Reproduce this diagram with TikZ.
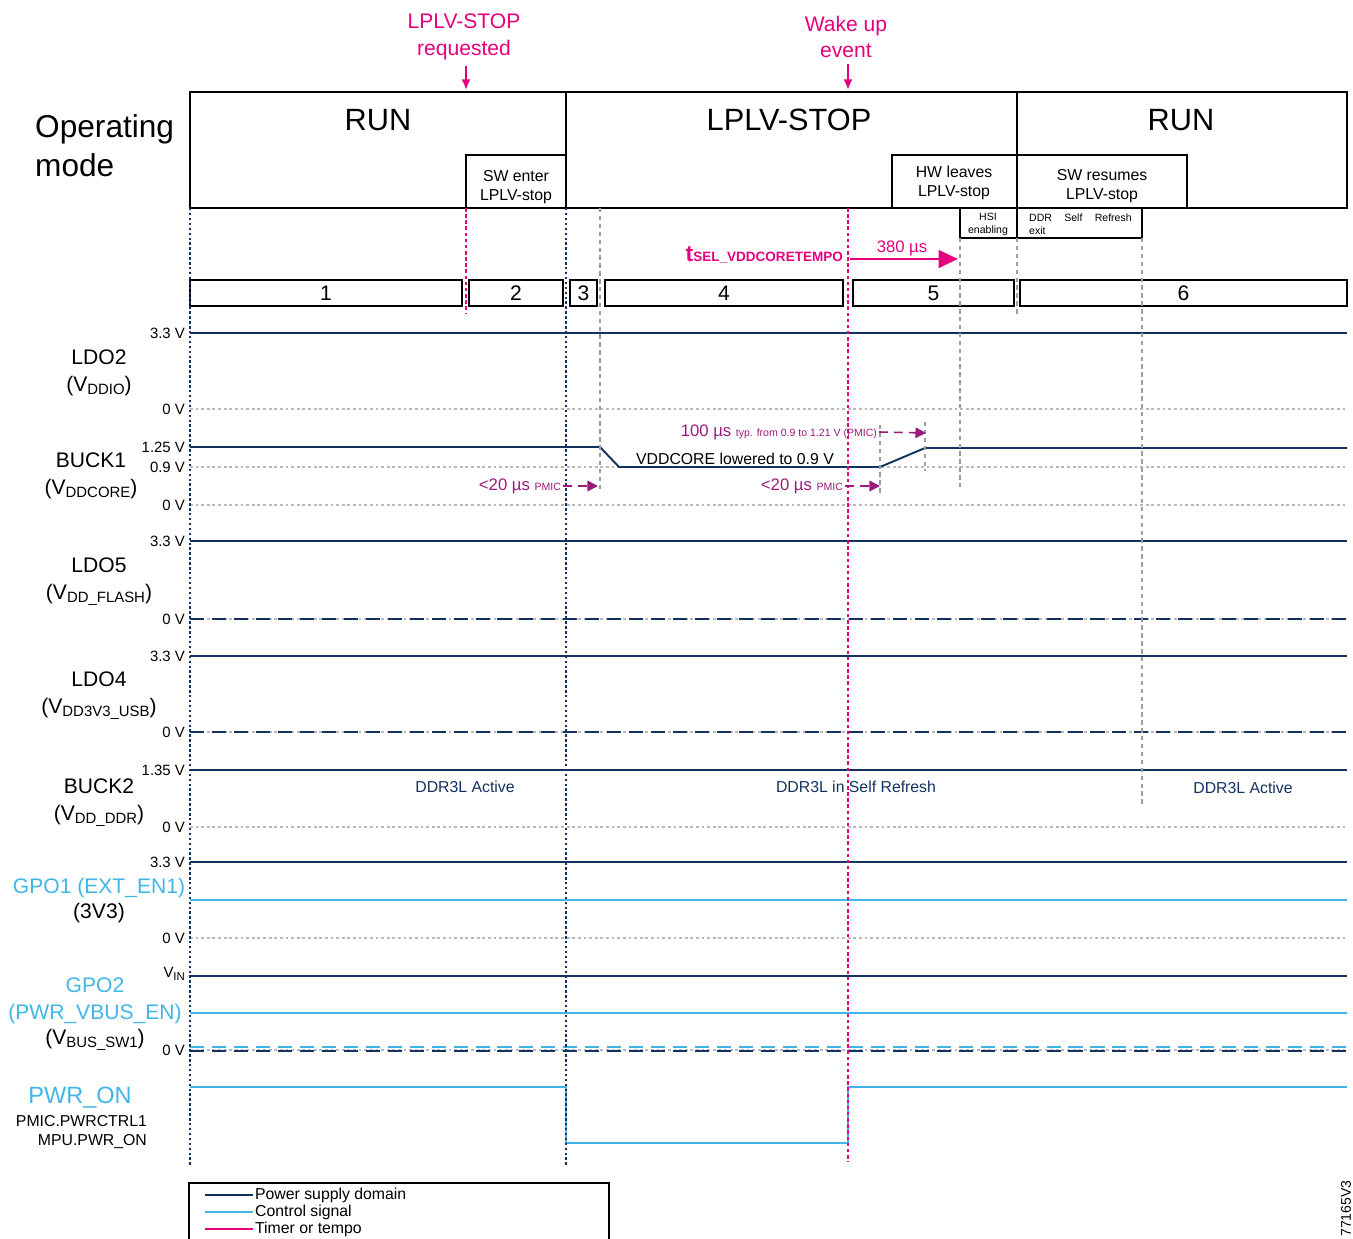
\documentclass[tikz,border=0pt]{standalone}
\usepackage{fontspec}
\setmainfont{Liberation Sans}
\usetikzlibrary{arrows.meta}
\definecolor{navy}{RGB}{20,50,95}
\definecolor{sky}{RGB}{65,182,230}
\definecolor{pink}{RGB}{229,0,126}
\definecolor{plum}{RGB}{155,25,125}
\definecolor{lgray}{RGB}{185,185,185}
\newcommand{\sbs}[1]{\raisebox{-.3ex}{\fontsize{8.5}{9}\selectfont#1}}
\newcommand{\smallpm}[1]{{\fontsize{6}{7}\selectfont#1}}

\tikzset{
  modebox/.style={line width=1.1pt},
  rail/.style={navy,line width=1.1pt},
  ctrl/.style={sky,line width=1.1pt},
  zero/.style={lgray,line width=.8pt,dash pattern=on 1.6pt off 1.6pt},
  zerodash/.style={line width=1.1pt,dash pattern=on 8pt off 4.5pt},
  bound/.style={navy,line width=.9pt,dash pattern=on 1.4pt off 1.4pt},
  evt/.style={pink,line width=1.1pt,dash pattern=on 2pt off 1.5pt},
  guide/.style={lgray!85!black,line width=.8pt,dash pattern=on 2.5pt off 2pt},
  volt/.style={anchor=east,inner sep=1pt,font=\fontsize{8.5}{10}\selectfont},
  railname/.style={align=center,font=\fontsize{12}{15.3}\selectfont},
  sublabel/.style={align=center,font=\fontsize{9}{10.8}\selectfont},
  minitext/.style={align=center,font=\fontsize{6}{7.4}\selectfont},
  evtlabel/.style={pink,align=center,font=\fontsize{12}{15.3}\selectfont},
  title/.style={font=\fontsize{17.5}{20}\selectfont},
  timing/.style={plum,line width=.9pt,dash pattern=on 5pt off 3.5pt,-{Triangle[length=6pt,width=6pt]}},
  lbl/.style={font=\fontsize{9}{11}\selectfont}
}

\begin{document}
\begin{tikzpicture}[x=0.02cm,y=-0.02cm]
\useasboundingbox (0,0) rectangle (1353,1239);
\draw[modebox] (190,92) rectangle (1347,208); \draw[modebox] (566,92) -- (566,208) (1017,92) -- (1017,208);
\draw[modebox] (466,155) rectangle (566,208); \draw[modebox] (892,155) rectangle (1017,208); \draw[modebox] (1017,155) rectangle (1187,208);
\draw[modebox] (960,208) rectangle (1017,238); \draw[modebox] (1017,208) rectangle (1142,238);
\node[title] (run1) at (378,120) {RUN}; \node[title] (stop) at (789,120) {LPLV-STOP}; \node[title] (run2) at (1181,120) {RUN};
\node[anchor=west,align=left,font=\fontsize{18}{22}\selectfont] (opmode) at (29,146) {Operating\\mode};
\node[sublabel] (swenter) at (516,187) {SW enter\\LPLV-stop};
\node[sublabel] (hwleave) at (954,183) {HW leaves\\LPLV-stop};
\node[sublabel] (swres) at (1102,186) {SW resumes\\LPLV-stop};
\node[minitext] (hsi) at (988,224) {HSI\\enabling};
\node[minitext,align=left,anchor=west] (ddr) at (1023,224) {DDR\hspace{7pt}Self\hspace{7pt}Refresh\\exit};

\foreach \n/\a/\b in {1/190/462,2/469/563,3/570/597,4/605/843,5/853/1014,6/1020/1347}{
  \draw[modebox] (\a,280) rectangle (\b,306);
  \node[font=\fontsize{12}{14}\selectfont] (ph\n) at ({(\a+\b)/2},293) {\n};
}

\node[evtlabel] (req) at (464,37) {LPLV-STOP\\requested}; \coordinate (reqtip) at (466,90);
\node[evtlabel] (wake) at (846,37) {Wake up\\event}; \coordinate (waketip) at (848,90);
\draw[pink,line width=1.1pt,-{Latex[length=6pt,width=5pt]}] (req.south -| reqtip) -- (reqtip);
\draw[pink,line width=1.1pt,-{Latex[length=6pt,width=5pt]}] (wake.south -| waketip) -- (waketip);

\foreach \y in {409,467,505,827,938,1050} \draw[zero] (190,\y) -- (1347,\y);
\foreach \y in {619,732} {\draw[zero] (190,\y) -- (1347,\y); \draw[zerodash,navy] (190,\y) -- (1347,\y);}
\foreach \y in {333,541,656,770,862,976} \draw[rail] (190,\y) -- (1347,\y);
\draw[rail] (190,447) -- (600,447) -- (619,467) -- (880,467) -- (925,448) -- (1347,448);
\draw[ctrl] (190,900) -- (1347,900); \draw[ctrl] (190,1013) -- (1347,1013);
\draw[zerodash,sky] (190,1047) -- (1347,1047); \draw[zerodash,navy] (190,1051) -- (1347,1051);
\draw[ctrl] (190,1087) -- (566,1087) -- (566,1143) -- (848,1143) -- (848,1087) -- (1347,1087);

\draw[bound] (190,208) -- (190,1165); \draw[bound] (566,208) -- (566,1165);
\draw[evt] (466,208) -- (466,314); \draw[evt] (848,208) -- (848,1162);
\draw[guide] (600,208) -- (600,492); \draw[guide] (960,238) -- (960,488); \draw[guide] (1017,238) -- (1017,314);
\draw[guide] (1142,238) -- (1142,805); \draw[guide] (880,425) -- (880,493); \draw[guide] (925,422) -- (925,471);

\node[anchor=east,pink,font=\bfseries,inner sep=1pt] (tsel) at (845,255) {{\fontsize{13}{13}\selectfont t}{\fontsize{7.7}{8}\selectfont SEL\_VDDCORETEMPO}};
\coordinate (t0) at (850,259); \coordinate (t1) at (958,259);
\draw[pink,line width=1.5pt,-{Triangle[length=11pt,width=10pt]}] (t0) -- (t1);
\node[pink,font=\fontsize{9.5}{11}\selectfont] (dur) at (902,248) {380 µs};

\node[plum,anchor=east,inner sep=1pt,font=\fontsize{9.5}{11}\selectfont] (rise) at (879,432) {100 µs \smallpm{typ. from 0.9 to 1.21 V (PMIC)}};
\coordinate (riseend) at (926,433); \draw[timing] (rise.east) -- (riseend);
\node[plum,anchor=east,inner sep=1pt,font=\fontsize{9.5}{11}\selectfont] (fall1) at (563,486) {<20 µs \smallpm{PMIC}};
\coordinate (fall1end) at (598,486); \draw[timing] (fall1.east) -- (fall1end);
\node[plum,anchor=east,inner sep=1pt,font=\fontsize{9.5}{11}\selectfont] (fall2) at (845,486) {<20 µs \smallpm{PMIC}};
\coordinate (fall2end) at (880,486); \draw[timing] (fall2.east) -- (fall2end);
\node[lbl] (vcore) at (735,459) {VDDCORE lowered to 0.9 V};
\node[lbl,navy] (ddr1) at (465,787) {DDR3L Active};
\node[lbl,navy] (ddr2) at (856,787) {DDR3L in Self Refresh};
\node[lbl,navy] (ddr3) at (1243,788) {DDR3L Active};

\foreach \y/\v in {333/3.3 V,409/0 V,447/1.25 V,467/0.9 V,505/0 V,541/3.3 V,619/0 V,656/3.3 V,732/0 V,770/1.35 V,827/0 V,862/3.3 V,938/0 V,1050/0 V}
  \node[volt] (v\y) at (187,\y) {\v};
\node[volt] (vin) at (187,974) {V\raisebox{-.3ex}{\fontsize{6.5}{7}\selectfont IN}};

\node[railname] (ldo2) at (99,373) {LDO2\\(V\sbs{DDIO})};
\node[railname] (buck1) at (91,476) {BUCK1\\(V\sbs{DDCORE})};
\node[railname] (ldo5) at (99,582) {LDO5\\(V\sbs{DD\_FLASH})};
\node[railname] (ldo4) at (99,696) {LDO4\\(V\sbs{DD3V3\_USB})};
\node[railname] (buck2) at (99,803) {BUCK2\\(V\sbs{DD\_DDR})};
\node[railname,sky] (gpo1) at (99,888) {GPO1 (EXT\_EN1)};
\node[railname] (gpo1v) at (99,913) {(3V3)};
\node[railname,sky] (gpo2) at (95,1001) {GPO2\\(PWR\_VBUS\_EN)};
\node[railname] (gpo2v) at (95,1040) {(V\sbs{BUS\_SW1})};
\node[sky,font=\fontsize{13.4}{16}\selectfont] (pwron) at (80,1098) {PWR\_ON};
\node[anchor=east,align=right,inner sep=1pt,font=\fontsize{9}{10.8}\selectfont] (pwrctrl) at (149,1132) {PMIC.PWRCTRL1\\MPU.PWR\_ON};

\draw[modebox] (189,1183) rectangle (609,1250);
\coordinate (k1) at (205,1195); \coordinate (k2) at (205,1212); \coordinate (k3) at (205,1229);
\node[lbl,anchor=west,inner sep=1pt] (key1) at (253,1195) {Power supply domain};
\node[lbl,anchor=west,inner sep=1pt] (key2) at (253,1212) {Control signal};
\node[lbl,anchor=west,inner sep=1pt] (key3) at (253,1229) {Timer or tempo};
\draw[rail,line width=.9pt] (k1) -- (key1.west); \draw[ctrl,line width=.9pt] (k2) -- (key2.west); \draw[pink,line width=.9pt] (k3) -- (key3.west);
\node[rotate=90,anchor=east,inner sep=0pt,font=\fontsize{8}{10}\selectfont] (figid) at (1346,1180) {77165V3};
\end{tikzpicture}
\end{document}
